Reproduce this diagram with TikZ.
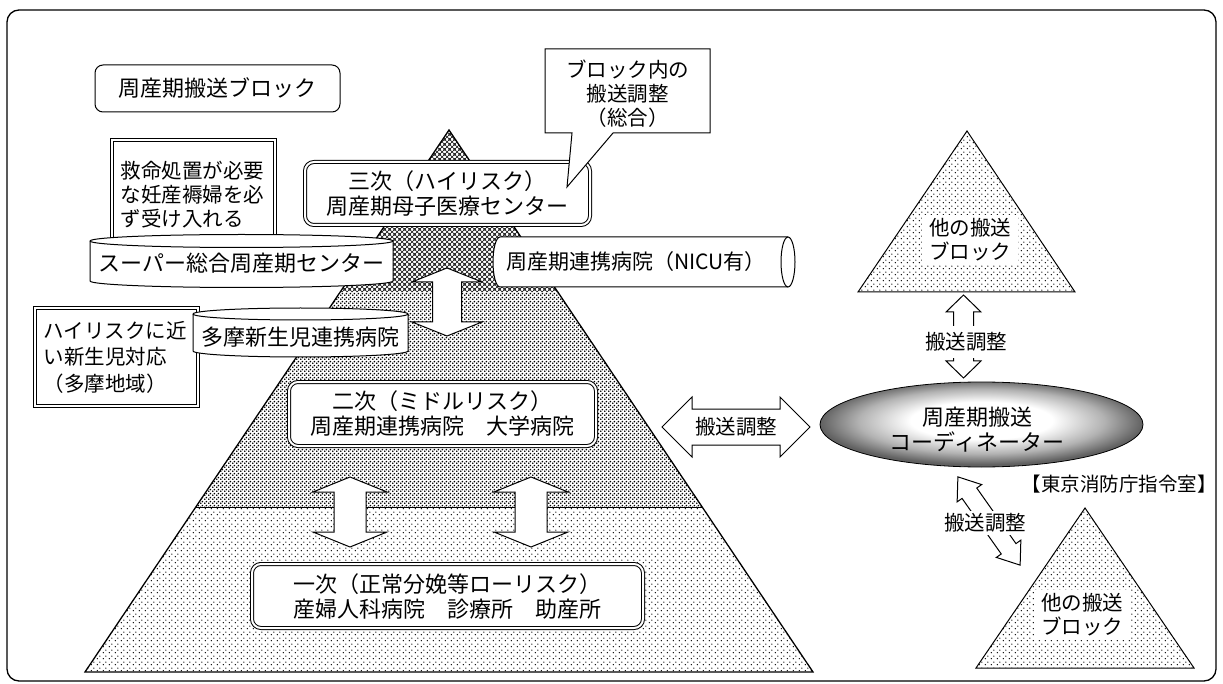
\documentclass[tikz,border=0pt]{standalone}
\usepackage{fontspec}
\newfontfamily\jp{Noto Sans CJK JP}
\usetikzlibrary{shapes.geometric,calc,patterns}

\pgfdeclarepatternformonly{sparsedots}{\pgfqpoint{0pt}{0pt}}{\pgfqpoint{6pt}{6pt}}{\pgfqpoint{6pt}{6pt}}{%
  \pgfpathcircle{\pgfqpoint{1.5pt}{1.5pt}}{0.85pt}%
  \pgfpathcircle{\pgfqpoint{4.5pt}{4.5pt}}{0.85pt}%
  \pgfusepath{fill}}
\pgfdeclarepatternformonly{densedots}{\pgfqpoint{0pt}{0pt}}{\pgfqpoint{4pt}{4pt}}{\pgfqpoint{4pt}{4pt}}{%
  \pgfpathcircle{\pgfqpoint{1pt}{1pt}}{1.1pt}%
  \pgfpathcircle{\pgfqpoint{3pt}{3pt}}{1.1pt}%
  \pgfusepath{fill}}
\pgfdeclarepatternformonly{crossmesh}{\pgfqpoint{0pt}{0pt}}{\pgfqpoint{5pt}{5pt}}{\pgfqpoint{5pt}{5pt}}{%
  \pgfsetlinewidth{0.55pt}%
  \pgfpathmoveto{\pgfqpoint{-1pt}{-1pt}}\pgfpathlineto{\pgfqpoint{6pt}{6pt}}%
  \pgfpathmoveto{\pgfqpoint{-1pt}{4pt}}\pgfpathlineto{\pgfqpoint{1pt}{6pt}}%
  \pgfpathmoveto{\pgfqpoint{4pt}{-1pt}}\pgfpathlineto{\pgfqpoint{6pt}{1pt}}%
  \pgfpathmoveto{\pgfqpoint{-1pt}{6pt}}\pgfpathlineto{\pgfqpoint{6pt}{-1pt}}%
  \pgfpathmoveto{\pgfqpoint{-1pt}{1pt}}\pgfpathlineto{\pgfqpoint{1pt}{-1pt}}%
  \pgfpathmoveto{\pgfqpoint{4pt}{6pt}}\pgfpathlineto{\pgfqpoint{6pt}{4pt}}%
  \pgfusepath{stroke}}
\pgfdeclareradialshading{ellshade}{\pgfpoint{0bp}{3bp}}{color(0bp)=(white); color(11bp)=(white); color(19bp)=(black!30); color(25bp)=(black!62); color(50bp)=(black!62)}

\tikzset{
  jp22/.style={font={\jp\fontsize{22pt}{25pt}\selectfont}},
  jp21/.style={font={\jp\fontsize{21pt}{25pt}\selectfont}},
  jp20/.style={font={\jp\fontsize{20.5pt}{24pt}\selectfont}},
  frame/.style={line width=1.3pt, rounded corners=12pt},
  tierbox/.style={draw, double=white, double distance=2pt, line width=1pt, rounded corners=9pt, fill=white, align=center, inner sep=0pt, jp22},
  dblbox/.style={draw, double=white, double distance=2pt, line width=1pt, fill=white, inner sep=0pt},
  cyl/.style={draw, fill=white, line width=1pt},
  arrowbody/.style={draw, fill=white, line width=1pt, line join=miter},
  pics/dblarrow/.style args={#1/#2/#3/#4}{code={%
    \draw[arrowbody] (-#1,0) -- (-#1+#4,-#3) -- (-#1+#4,-#2) -- (#1-#4,-#2) -- (#1-#4,-#3) -- (#1,0)
      -- (#1-#4,#3) -- (#1-#4,#2) -- (-#1+#4,#2) -- (-#1+#4,#3) -- cycle;
  }},
}

\begin{document}
\begin{tikzpicture}[x=1pt,y=-1pt,line width=1pt]
\useasboundingbox (0,0) rectangle (1223,684);
\draw[frame] (7,10) rectangle (1216,681);

% pyramid
\coordinate (apex) at (449,130);
\coordinate (bl) at (85,672);
\coordinate (br) at (813,672);
\coordinate (l1) at ($(apex)!0.2989!(bl)$);
\coordinate (r1) at ($(apex)!0.2989!(br)$);
\coordinate (l2) at ($(apex)!0.6974!(bl)$);
\coordinate (r2) at ($(apex)!0.6974!(br)$);
\fill[pattern=sparsedots] (l2) -- (r2) -- (br) -- (bl) -- cycle;
\fill[pattern=densedots] (l1) -- (r1) -- (r2) -- (l2) -- cycle;
\fill[pattern=crossmesh] (apex) -- (r1) -- (l1) -- cycle;
\draw (l2) -- (r2);
\draw[line width=1.3pt] (apex) -- (br) -- (bl) -- cycle;

% other blocks (triangles)
\coordinate (ta) at (967,131);
\coordinate (tl) at (858,292);
\coordinate (tr) at (1075,292);
\draw[pattern=sparsedots] (ta) -- (tr) -- (tl) -- cycle;
\node[jp20, fill=white, align=center, inner xsep=7pt, inner ysep=4pt] (blk1) at (970,240) {他の搬送\\ブロック};
\coordinate (ua) at (1085,508);
\coordinate (ul) at (976,668);
\coordinate (ur) at (1194,668);
\draw[pattern=sparsedots] (ua) -- (ur) -- (ul) -- cycle;
\node[jp20, fill=white, align=center, inner xsep=7pt, inner ysep=4pt] (blk2) at (1082,615) {他の搬送\\ブロック};

% title
\node[draw, rounded corners=8pt, minimum width=245, minimum height=47, jp22] (title) at (217.5,88.5) {周産期搬送ブロック};

% left boxes
\node[dblbox, minimum width=163, minimum height=110, text width=146pt, align=left, jp20] (kyumei) at (193.5,195) {救命処置が必要\\な妊産褥婦を必\\ず受け入れる};
\draw[cyl] (90,241) -- (90,281) arc[start angle=180,end angle=0,x radius=151.5,y radius=6.5] -- (393,241) arc[start angle=0,end angle=-180,x radius=151.5,y radius=6.5] -- cycle;
\draw (90,241) arc[start angle=180,end angle=0,x radius=151.5,y radius=6.5];
\node[jp22] (super) at (241.5,263) {スーパー総合周産期センター};

\node[dblbox, minimum width=163, minimum height=98, text width=146pt, align=left, font={\jp\fontsize{20.5pt}{26.5pt}\selectfont}] (tama) at (116.5,357) {ハイリスクに近\\い新生児対応\\（多摩地域）};
\draw[cyl] (193,314) -- (193,351) arc[start angle=180,end angle=0,x radius=107.5,y radius=6] -- (408,314) arc[start angle=0,end angle=-180,x radius=107.5,y radius=6] -- cycle;
\draw (193,314) arc[start angle=180,end angle=0,x radius=107.5,y radius=6];
\node[jp22] (tamahosp) at (300.5,337) {多摩新生児連携病院};

% tiers
\node[tierbox, minimum width=285, minimum height=63] (tier3) at (447.5,193.5) {三次（ハイリスク）\\周産期母子医療センター};
\node[tierbox, minimum width=307, minimum height=64] (tier2) at (442.5,414) {二次（ミドルリスク）\\周産期連携病院　大学病院};
\node[tierbox, minimum width=391, minimum height=64] (tier1) at (447.5,596) {一次（正常分娩等ローリスク）\\産婦人科病院　診療所　助産所};

% NICU cylinder
\draw[cyl] (788,237) -- (500,237) arc[start angle=270,end angle=90,x radius=7,y radius=25] -- (788,287) arc[start angle=90,end angle=-90,x radius=7,y radius=25] -- cycle;
\draw (788,237) arc[start angle=270,end angle=90,x radius=7,y radius=25];
\node[jp21] (nicu) at (636,262) {周産期連携病院（NICU有）};

% block arrows
\coordinate (a32) at (447,302);
\pic[rotate=90] at (a32) {dblarrow={34/14.5/35/14}};
\coordinate (a21l) at (350,512);
\pic[rotate=90] at (a21l) {dblarrow={35/16/37/15}};
\coordinate (a21r) at (531,512);
\pic[rotate=90] at (a21r) {dblarrow={35/16/37/15}};
\coordinate (ah) at (736,427);
\pic at (ah) {dblarrow={74/18/30/30}};
\node[jp20] (hlabel) at (ah) {搬送調整};
\coordinate (av) at (963.5,336.5);
\pic[rotate=90] at (av) {dblarrow={41.5/10/17.5/17}};
\node[jp20, fill=white, inner xsep=1pt, inner ysep=7pt] (vlabel) at (966,342) {搬送調整};
\coordinate (ad) at (989,521);
\pic[rotate=-54.8] at (ad) {dblarrow={54/9/15/20}};
\node[jp20, fill=white, inner xsep=1pt, inner ysep=3pt] (dlabel) at (985,523) {搬送調整};

% callout
\draw[fill=white] (545,49) -- (710,49) -- (710,133) -- (613,133) -- (567,187) -- (572,133) -- (545,133) -- cycle;
\node[jp20, align=center] (callout) at (627.5,94) {ブロック内の\\搬送調整\\（総合）};

% coordinator
\node[ellipse, draw, line width=0.8pt, shade, shading=ellshade, minimum width=323, minimum height=85, inner sep=0pt] (coord) at (981.5,424.5) {};
\node[align=center, jp22] (coordtxt) at (977,429.5) {周産期搬送\\コーディネーター};
\node[font={\jp\fontsize{19.5pt}{24pt}\selectfont}] (tfd) at (1119,484) {【東京消防庁指令室】};
\end{tikzpicture}
\end{document}
